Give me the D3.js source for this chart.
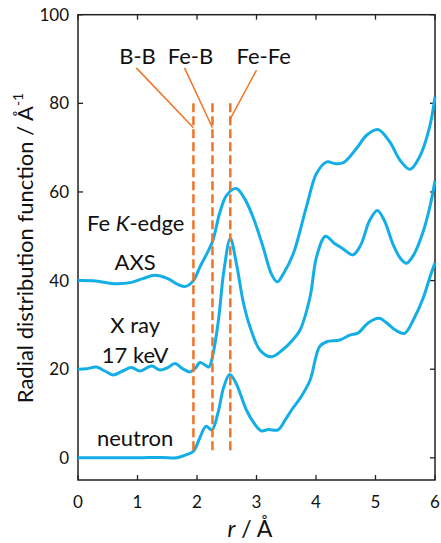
<!DOCTYPE html>
<html>
<head>
<meta charset="utf-8">
<script src="https://cdn.jsdelivr.net/npm/d3@7"></script>
<style>
  body { margin: 0; background: #fff; }
  svg { display: block; }
  text { font-family: Lato, "Open Sans", sans-serif; fill: #111; }
</style>
</head>
<body>
<svg id="chart" width="441" height="543"></svg>
<script>
// r / A and RDF values (curves already carry their +20 / +40 offsets)
var rNeutron = [0, 0.5, 1.0, 1.4, 1.66, 1.8, 1.94, 2.05, 2.15, 2.25, 2.35, 2.45, 2.55, 2.65, 2.83, 2.95, 3.08, 3.2, 3.36, 3.48, 3.59, 3.75, 3.9, 4.06, 4.18, 4.4, 4.57, 4.71, 4.88, 5.06, 5.2, 5.35, 5.49, 5.65, 5.8, 5.92, 6.0];
var gNeutron = [0, 0, 0, 0.1, 0, 0.6, 1.5, 4.6, 7.1, 6.3, 10, 16, 18.8, 17, 10.8, 8, 6.1, 6.4, 6.3, 8.5, 10.8, 13.8, 17.5, 25.1, 26.2, 26.6, 27.7, 28.2, 30.5, 31.5, 30.3, 28.7, 28.1, 31.5, 36, 41, 44];

var rXray = [0, 0.15, 0.31, 0.45, 0.59, 0.75, 0.9, 1.04, 1.24, 1.38, 1.5, 1.63, 1.75, 1.88, 1.97, 2.05, 2.13, 2.2, 2.27, 2.36, 2.45, 2.56, 2.66, 2.78, 2.89, 3.06, 3.25, 3.45, 3.6, 3.73, 3.9, 4.01, 4.16, 4.3, 4.45, 4.62, 4.75, 4.9, 5.03, 5.15, 5.3, 5.42, 5.52, 5.65, 5.8, 5.92, 6.0];
var gXray = [20, 20.1, 20.5, 19.6, 18.7, 19.6, 20.4, 19.6, 20.7, 19.8, 20.3, 21.3, 20.2, 19.4, 20.2, 21.5, 21.0, 20.5, 23.5, 31, 42, 49.5, 44, 35, 29.6, 24.3, 22.8, 24.5, 26.5, 28.8, 36.3, 45.4, 50.0, 48.5, 47.2, 45.8, 48, 53.5, 55.8, 53.5, 48, 45, 43.9, 46, 51, 57, 62.5];

var rAxs = [0, 0.3, 0.6, 0.9, 1.1, 1.29, 1.5, 1.7, 1.81, 1.94, 2.05, 2.26, 2.38, 2.5, 2.66, 2.8, 2.94, 3.11, 3.25, 3.35, 3.45, 3.62, 3.84, 4.01, 4.18, 4.32, 4.46, 4.68, 4.85, 5.04, 5.24, 5.41, 5.58, 5.74, 5.91, 6.0];
var gAxs = [40, 39.9, 39.3, 39.6, 40.5, 41.2, 40.5, 39.0, 38.7, 40, 43.1, 48.8, 55.2, 59.3, 60.8, 58.5, 54.4, 47.6, 41.5, 39.7, 41.5, 46.1, 56.7, 64.2, 66.8, 66.4, 66.6, 69.8, 72.8, 74.1, 71.3, 67.2, 65.1, 67.9, 74.7, 81.5];

var xTicks = [0, 1, 2, 3, 4, 5, 6];
var yTicks = [0, 20, 40, 60, 80, 100];

// bond markers: r position, label, label anchor, leader start (r, g), leader end g
var bondR = [1.94, 2.26, 2.56];
var bondLabels = ["B-B", "Fe-B", "Fe-Fe"];
var labelR = [1.0, 1.89, 3.12];
var leaderStart = [[0.98, 88], [1.79, 88], [3.0, 87.5]];
var leaderEnd = [74.5, 74.5, 76.5];

var sampleLabels = [
  {lines: ["Fe ", "K", "-edge"], r: 0.97, g: 51.2},
  {lines: ["AXS"], r: 0.96, g: 42.3},
  {lines: ["X ray"], r: 0.96, g: 28.1},
  {lines: ["17 keV"], r: 0.96, g: 21.4},
  {lines: ["neutron"], r: 0.96, g: 2.6}
];

var svg = d3.select("#chart");
var x0 = 78, x1 = 435, yTop = 14.7, yBot = 480;

var x = d3.scaleLinear().domain([0, 6]).range([x0, x1]);
var y = d3.scaleLinear().domain([-5, 100]).range([yBot, yTop]);

var blue = "#14aee6", orange = "#ee7428";

// frame
svg.append("rect")
  .attr("x", x0).attr("y", yTop)
  .attr("width", x1 - x0).attr("height", yBot - yTop)
  .attr("fill", "none").attr("stroke", "#222").attr("stroke-width", 1.5);

// ticks, inward on all sides
var tk = 5;
var gAx = svg.append("g").attr("stroke", "#222").attr("stroke-width", 1.3);
xTicks.forEach(function(t) {
  gAx.append("line").attr("x1", x(t)).attr("x2", x(t)).attr("y1", yBot).attr("y2", yBot - tk);
  gAx.append("line").attr("x1", x(t)).attr("x2", x(t)).attr("y1", yTop).attr("y2", yTop + tk);
});
yTicks.forEach(function(t) {
  gAx.append("line").attr("x1", x0).attr("x2", x0 + tk).attr("y1", y(t)).attr("y2", y(t));
  gAx.append("line").attr("x1", x1).attr("x2", x1 - tk).attr("y1", y(t)).attr("y2", y(t));
});

svg.selectAll(".xt").data(xTicks).enter().append("text")
  .attr("x", function(d) { return x(d); })
  .attr("y", 508)
  .attr("text-anchor", "middle")
  .attr("font-size", 17)
  .text(function(d) { return d; });

svg.selectAll(".yt").data(yTicks).enter().append("text")
  .attr("x", 69)
  .attr("y", function(d) { return y(d) + 6; })
  .attr("text-anchor", "end")
  .attr("font-size", 17)
  .text(function(d) { return d; });

// axis titles
var xt = svg.append("text").attr("x", 250).attr("y", 537).attr("text-anchor", "middle").attr("font-size", 23);
xt.append("tspan").attr("font-style", "italic").text("r");
xt.append("tspan").text(" / Å");

var yt = svg.append("text")
  .attr("transform", "translate(33,248) rotate(-90)")
  .attr("text-anchor", "middle")
  .attr("font-size", 22);
yt.append("tspan").text("Radial distribution function / Å");
yt.append("tspan").attr("font-size", 14).attr("dy", -10).text("-1");

// curves
var line = d3.line()
  .x(function(d) { return x(d[0]); })
  .y(function(d) { return y(d[1]); })
  .curve(d3.curveCatmullRom.alpha(0.5));

var series = [d3.zip(rNeutron, gNeutron), d3.zip(rXray, gXray), d3.zip(rAxs, gAxs)];
svg.selectAll(".curve").data(series).enter().append("path")
  .attr("d", line)
  .attr("fill", "none")
  .attr("stroke", blue)
  .attr("stroke-width", 3)
  .attr("stroke-linejoin", "round");

// bond markers
bondR.forEach(function(b, i) {
  svg.append("line")
    .attr("x1", x(b)).attr("x2", x(b))
    .attr("y1", y(80)).attr("y2", y(1))
    .attr("stroke", orange).attr("stroke-width", 2.5)
    .attr("stroke-dasharray", "9,4");
  svg.append("line")
    .attr("x1", x(leaderStart[i][0])).attr("y1", y(leaderStart[i][1]))
    .attr("x2", x(b)).attr("y2", y(leaderEnd[i]))
    .attr("stroke", orange).attr("stroke-width", 1.5);
  svg.append("text")
    .attr("x", x(labelR[i])).attr("y", 64)
    .attr("text-anchor", "middle")
    .attr("font-size", 22)
    .text(bondLabels[i]);
});

// sample labels
sampleLabels.forEach(function(s) {
  var t = svg.append("text")
    .attr("x", x(s.r)).attr("y", y(s.g))
    .attr("text-anchor", "middle")
    .attr("font-size", 22);
  s.lines.forEach(function(part) {
    var sp = t.append("tspan").text(part);
    if (part === "K") sp.attr("font-style", "italic");
  });
});
</script>
</body>
</html>
